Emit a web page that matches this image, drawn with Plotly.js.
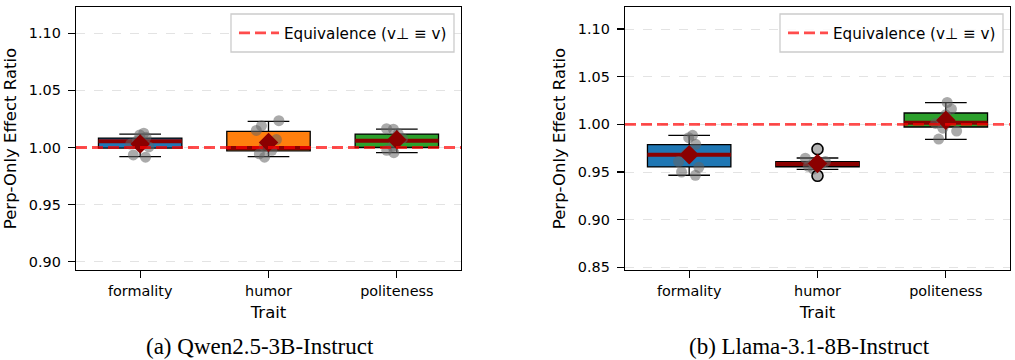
<!DOCTYPE html>
<html>
<head>
<meta charset="utf-8">
<script src="https://cdn.plot.ly/plotly-3.0.1.min.js"></script>
<style>html,body{margin:0;padding:0;background:#fff;}#chart{width:1015px;height:360px;}</style>
</head>
<body>
<div id="chart"></div>
<script>
// ---------- data ----------
const traits = ['formality', 'humor', 'politeness'];
const boxColors = ['#1f77b4', '#ff7f0e', '#2ca02c'];
const equivalence = 1.0;
const legendLabel = 'Equivalence (v\u22A5 \u2261 v)';
const yTitle = 'Perp-Only Effect Ratio';
const xTitle = 'Trait';
const captions = ['(a) Qwen2.5-3B-Instruct', '(b) Llama-3.1-8B-Instruct'];

// Qwen2.5-3B-Instruct box statistics
const qwenQ1 = [0.9995, 0.9971, 1.0000];
const qwenMedian = [1.0056, 0.9996, 1.0059];
const qwenQ3 = [1.0083, 1.0141, 1.0118];
const qwenLow = [0.9921, 0.9921, 0.9956];
const qwenHigh = [1.0118, 1.0229, 1.0162];
const qwenMean = [1.0030, 1.0044, 1.0068];
const qwenFormalityPts = [1.0125, 1.0110, 1.0090, 1.0060, 1.0030, 1.0005, 0.9935, 0.9915];
const qwenHumorPts = [1.0235, 1.0190, 1.0150, 1.0070, 1.0010, 0.9975, 0.9945, 0.9915];
const qwenPolitenessPts = [1.0165, 1.0160, 1.0120, 1.0080, 1.0050, 1.0010, 0.9975, 0.9955];
const qwenOutliers = [];
const qwenOutlierTraits = [];

// Llama-3.1-8B-Instruct box statistics
const llamaQ1 = [0.9553, 0.9555, 0.9972];
const llamaMedian = [0.9682, 0.9585, 1.0017];
const llamaQ3 = [0.9787, 0.9608, 1.0119];
const llamaLow = [0.9466, 0.9528, 0.9843];
const llamaHigh = [0.9885, 0.9647, 1.0227];
const llamaMean = [0.9682, 0.9588, 1.0042];
const llamaFormalityPts = [0.9885, 0.9860, 0.9790, 0.9690, 0.9610, 0.9550, 0.9500, 0.9465];
const llamaHumorPts = [0.9645, 0.9610, 0.9590, 0.9580, 0.9560, 0.9530];
const llamaPolitenessPts = [1.0230, 1.0160, 1.0100, 1.0030, 1.0010, 0.9960, 0.9930, 0.9845];
const llamaOutliers = [0.9740, 0.9460];
const llamaOutlierTraits = ['humor', 'humor'];

// ---------- build ----------
const FONT = 'DejaVu Sans';
const FS = 14.4;      // tick labels
const FS_TITLE = 16.5; // axis titles
const FS_LEG = 15.2;   // legend
const data = [];

function panel(xa, ya, q1, med, q3, lo, hi, mean, ptLists, outY, outX) {
  traits.forEach((t, i) => {
    data.push({
      type: 'box', xaxis: xa, yaxis: ya, x: [t],
      q1: [q1[i]], median: [med[i]], q3: [q3[i]],
      lowerfence: [lo[i]], upperfence: [hi[i]],
      fillcolor: boxColors[i], line: {color: '#000', width: 1.3},
      width: 0.65, whiskerwidth: 0.5, boxpoints: false,
      showlegend: false, hoverinfo: 'skip'
    });
  });
  // median lines (thick dark red)
  data.push({
    type: 'box', xaxis: xa, yaxis: ya, x: traits,
    q1: med, median: med, q3: med, lowerfence: med, upperfence: med,
    fillcolor: 'rgba(0,0,0,0)', line: {color: '#8B0000', width: 4},
    width: 0.65, whiskerwidth: 0, boxpoints: false,
    showlegend: false, hoverinfo: 'skip'
  });
  // individual points
  const px = [], py = [];
  ptLists.forEach((lst, i) => lst.forEach(v => { px.push(traits[i]); py.push(v); }));
  data.push({
    type: 'box', xaxis: xa, yaxis: ya, x: px, y: py,
    boxpoints: 'all', jitter: 0.3, pointpos: 0,
    marker: {color: 'rgba(100,100,100,0.55)', size: 11},
    fillcolor: 'rgba(0,0,0,0)', line: {color: 'rgba(0,0,0,0)', width: 0},
    width: 0.65, showlegend: false, hoverinfo: 'skip'
  });
  // outliers
  if (outY.length) {
    data.push({
      type: 'scatter', mode: 'markers', xaxis: xa, yaxis: ya, x: outX, y: outY,
      marker: {symbol: 'circle', size: 11, color: 'rgba(130,130,130,0.6)', line: {color: '#000', width: 1.6}},
      showlegend: false, hoverinfo: 'skip'
    });
  }
  // means
  data.push({
    type: 'scatter', mode: 'markers', xaxis: xa, yaxis: ya, x: traits, y: mean,
    marker: {symbol: 'diamond', size: 15, color: '#8B0000', line: {width: 0}},
    showlegend: false, hoverinfo: 'skip'
  });
}

panel('x', 'y', qwenQ1, qwenMedian, qwenQ3, qwenLow, qwenHigh, qwenMean,
      [qwenFormalityPts, qwenHumorPts, qwenPolitenessPts], qwenOutliers, qwenOutlierTraits);
panel('x2', 'y2', llamaQ1, llamaMedian, llamaQ3, llamaLow, llamaHigh, llamaMean,
      [llamaFormalityPts, llamaHumorPts, llamaPolitenessPts], llamaOutliers, llamaOutlierTraits);

const W = 1015, H = 360;
function xAxis(d0, d1, anchor) {
  return {
    domain: [d0 / W, d1 / W], anchor: anchor, type: 'category', range: [-0.5, 2.5],
    showline: true, mirror: true, linecolor: '#000', linewidth: 1.3,
    ticks: 'outside', ticklen: 7, tickwidth: 1.2, tickcolor: '#000',
    tickfont: {family: FONT, size: FS, color: '#000'},
    showgrid: false, zeroline: false, automargin: false,
    title: {text: xTitle, font: {family: FONT, size: FS_TITLE, color: '#000'}, standoff: 9}
  };
}
function yAxis(r0, r1, t0, anchor) {
  return {
    domain: [1 - 270 / H, 1 - 7 / H], anchor: anchor, range: [r0, r1],
    tick0: t0, dtick: 0.05, tickformat: '.2f',
    showline: true, mirror: true, linecolor: '#000', linewidth: 1.3,
    ticks: 'outside', ticklen: 7, tickwidth: 1.2, tickcolor: '#000',
    ticklabelstandoff: 4,
    tickfont: {family: FONT, size: FS, color: '#000'},
    showgrid: true, gridcolor: '#e3e3e3', griddash: 'dash', gridwidth: 1,
    zeroline: false, automargin: false,
    title: {text: yTitle, font: {family: FONT, size: FS_TITLE, color: '#000'}, standoff: 8}
  };
}

const eqLine = (xref, yref, leg) => ({
  type: 'line', xref: xref, yref: yref, x0: 0, x1: 1, y0: equivalence, y1: equivalence,
  line: {color: 'rgba(255,0,0,0.7)', width: 2.8, dash: '11px,5px'},
  layer: 'above', showlegend: true, name: legendLabel, legend: leg
});

// legend frame (decoration only)
const legendFrame = (x0, x1) => ({
  type: 'rect', xref: 'paper', yref: 'paper',
  x0: x0 / W, x1: x1 / W, y0: 1 - 52 / H, y1: 1 - 14 / H,
  fillcolor: 'rgba(255,255,255,0.85)', line: {color: '#cccccc', width: 1.3},
  layer: 'above'
});

const legendStyle = (x) => ({
  x: x, xanchor: 'left', y: 1 - 33 / H, yanchor: 'middle',
  bgcolor: 'rgba(0,0,0,0)', borderwidth: 0, itemwidth: 40,
  font: {family: FONT, size: FS_LEG, color: '#000'}
});

const layout = {
  width: W, height: H, margin: {l: 0, r: 0, t: 0, b: 0},
  paper_bgcolor: '#fff', plot_bgcolor: '#fff',
  font: {family: FONT, size: FS, color: '#000'},
  boxmode: 'overlay', showlegend: true,
  xaxis: xAxis(76, 461, 'y'), yaxis: yAxis(0.8927, 1.1231, 0.90, 'x'),
  xaxis2: xAxis(625, 1010, 'y2'), yaxis2: yAxis(0.8472, 1.1231, 0.85, 'x2'),
  legend: legendStyle(234 / W), legend2: legendStyle(783 / W),
  shapes: [eqLine('x domain', 'y', 'legend'), eqLine('x2 domain', 'y2', 'legend2'),
           legendFrame(231, 454), legendFrame(780, 1003)],
  annotations: [
    {text: captions[0], xref: 'paper', yref: 'paper', x: 260 / W, y: 0,
     xanchor: 'center', yanchor: 'bottom', showarrow: false, borderpad: 0,
     font: {family: 'Liberation Serif', size: 23, color: '#000'}},
    {text: captions[1], xref: 'paper', yref: 'paper', x: 809 / W, y: 0,
     xanchor: 'center', yanchor: 'bottom', showarrow: false, borderpad: 0,
     font: {family: 'Liberation Serif', size: 23, color: '#000'}}
  ]
};

Plotly.newPlot('chart', data, layout, {displayModeBar: false, staticPlot: true});
</script>
</body>
</html>
